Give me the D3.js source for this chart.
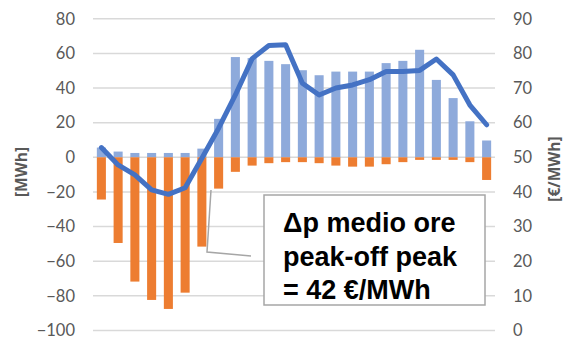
<!DOCTYPE html>
<html>
<head>
<meta charset="utf-8">
<script src="https://cdn.jsdelivr.net/npm/d3@7"></script>
<style>
  html, body { margin: 0; padding: 0; background: #fff; }
  svg { display: block; }
</style>
</head>
<body>
<svg id="chart" width="564" height="343"></svg>
<script>
// Hours of the day (one column each)
const hours = d3.range(1, 25);
// Energy surplus (positive) and deficit (negative), MWh
const surplus = [5.6, 3.3, 2.5, 2.5, 2.5, 2.5, 5, 22.2, 57.9, 57.3, 55.7, 53.8, 50.3, 47.4, 49.5, 49.5, 49.5, 54.4, 55.7, 62.1, 44.7, 34.2, 20.8, 9.7];
const deficit = [-24.4, -49.5, -71.8, -82.4, -87.6, -78.2, -51.6, -18.1, -8.4, -4.8, -3.4, -2.8, -2.8, -3.4, -4.8, -5.4, -5.4, -4, -2.8, -1.5, -1.5, -1.5, -2.8, -13.1];
// Hourly price, €/MWh (right axis)
const price = [52.8, 47.8, 44.9, 40.6, 39.3, 41.2, 49.7, 58.4, 68, 78.5, 82.3, 82.5, 71.4, 68, 70, 70.9, 72.4, 74.8, 74.8, 75.1, 78.4, 73.8, 65.1, 59.4];
// Axis ticks
const leftTicks = [-100, -80, -60, -40, -20, 0, 20, 40, 60, 80];
const rightTicks = [0, 10, 20, 30, 40, 50, 60, 70, 80, 90];
const leftTitle = "[MWh]";
const rightTitle = "[€/MWh]";
const noteLines = ["Δp medio ore", "peak-off peak", "= 42 €/MWh"];

const svg = d3.select("#chart");
const plot = { left: 93, right: 495, top: 18.8, bottom: 330.4 };

const x = d3.scaleBand().domain(hours).range([plot.left, plot.right]).paddingInner(0.46).paddingOuter(0.23);
const yL = d3.scaleLinear().domain([-100, 80]).range([plot.bottom, plot.top]);
const yR = d3.scaleLinear().domain([0, 90]).range([plot.bottom, plot.top]);

const tickFont = "Lato, 'Open Sans', sans-serif";
const titleFont = "'Open Sans', 'DejaVu Sans', sans-serif";

// Gridlines
svg.append("g").selectAll("line").data(leftTicks).join("line")
  .attr("x1", plot.left).attr("x2", plot.right)
  .attr("y1", d => yL(d)).attr("y2", d => yL(d))
  .attr("stroke", "#d9d9d9").attr("stroke-width", 1.5);

// Left axis labels
const axL = svg.append("g").attr("transform", `translate(${plot.left - 18},0)`)
  .call(d3.axisLeft(yL).tickValues(leftTicks).tickSize(0).tickPadding(0).tickFormat(d3.format("d")));
axL.select(".domain").remove();
axL.selectAll("text").attr("font-family", tickFont).attr("font-size", 16.5).attr("fill", "#595959");

// Right axis labels
const axR = svg.append("g").attr("transform", `translate(${plot.right + 18},0)`)
  .call(d3.axisRight(yR).tickValues(rightTicks).tickSize(0).tickPadding(0).tickFormat(d3.format("d")));
axR.select(".domain").remove();
axR.selectAll("text").attr("font-family", tickFont).attr("font-size", 16.5).attr("fill", "#595959");

// Axis titles
svg.append("text").text(leftTitle)
  .attr("transform", `translate(27,172) rotate(-90)`)
  .attr("text-anchor", "middle").attr("font-family", titleFont).attr("font-weight", 700)
  .attr("font-size", 15.5).attr("fill", "#595959");
svg.append("text").text(rightTitle)
  .attr("transform", `translate(560,169) rotate(-90)`)
  .attr("text-anchor", "middle").attr("font-family", titleFont).attr("font-weight", 700)
  .attr("font-size", 15.5).attr("fill", "#595959");

// Bars: surplus above zero, deficit below
svg.append("g").selectAll("rect").data(hours).join("rect")
  .attr("x", d => x(d)).attr("width", x.bandwidth())
  .attr("y", (d, i) => yL(surplus[i])).attr("height", (d, i) => yL(0) - yL(surplus[i]))
  .attr("fill", "#8eaadb");
svg.append("g").selectAll("rect").data(hours).join("rect")
  .attr("x", d => x(d)).attr("width", x.bandwidth())
  .attr("y", yL(0)).attr("height", (d, i) => yL(deficit[i]) - yL(0))
  .attr("fill", "#ed7d31");

// Price line
const line = d3.line().x((d, i) => x(hours[i]) + x.bandwidth() / 2).y(d => yR(d));
svg.append("path").datum(price).attr("d", line)
  .attr("fill", "none").attr("stroke", "#4472c4").attr("stroke-width", 5)
  .attr("stroke-linejoin", "round").attr("stroke-linecap", "round");

// Callout leader
svg.append("polyline")
  .attr("points", "211,190 207,252 251,256")
  .attr("fill", "none").attr("stroke", "#a6a6a6").attr("stroke-width", 1.5);

// Callout box
svg.append("rect").attr("x", 264).attr("y", 195).attr("width", 221).attr("height", 110)
  .attr("fill", "#fff").attr("stroke", "#a6a6a6").attr("stroke-width", 1.5);
const baselines = [232, 266, 299];
svg.append("g").selectAll("text").data(noteLines).join("text")
  .text(d => d).attr("x", 283).attr("y", (d, i) => baselines[i])
  .attr("font-family", "'Liberation Sans', Arial, sans-serif").attr("font-weight", "bold")
  .attr("font-size", 27).attr("fill", "#000");
</script>
</body>
</html>
